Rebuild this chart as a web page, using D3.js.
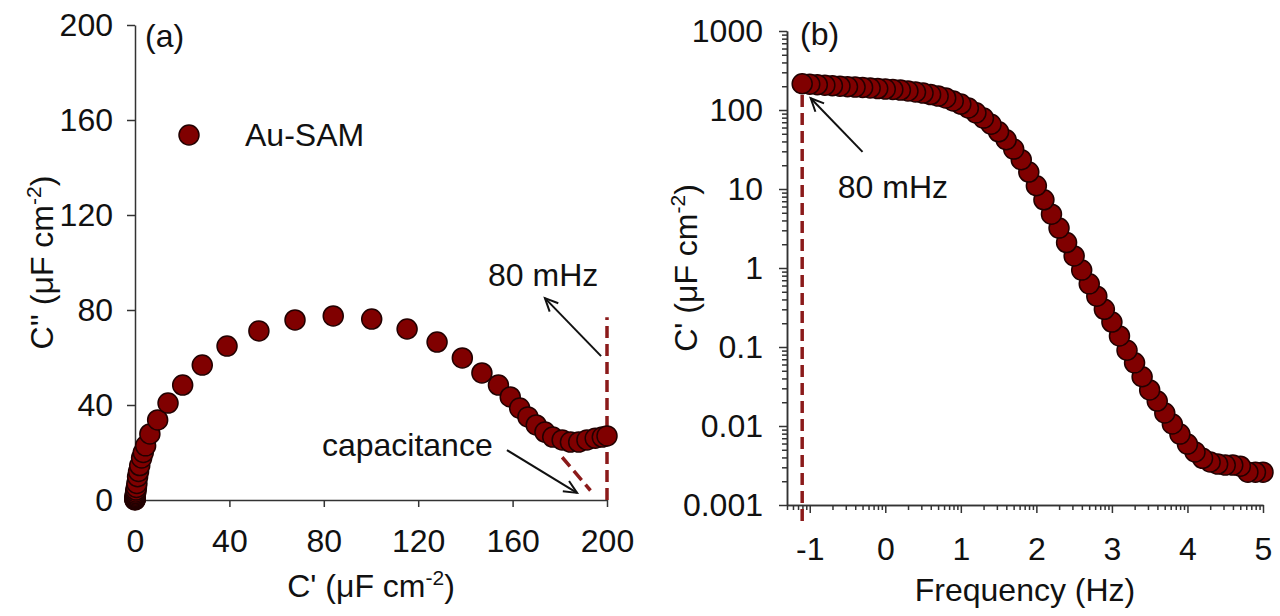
<!DOCTYPE html>
<html>
<head>
<meta charset="utf-8">
<script src="https://cdn.jsdelivr.net/npm/d3@7"></script>
<style>
  body { margin: 0; background: #fff; }
  svg { display: block; font-family: "Liberation Sans", Arial, sans-serif; }
  .axis path, .axis line { stroke: #333; stroke-width: 1.5; }
  .axis text { font-size: 32px; fill: #111; font-family: "Liberation Sans", Arial, sans-serif; }
</style>
</head>
<body>
<svg id="chart"></svg>
<script>
// (a) C'' vs C' , ordered from high to low frequency
const nyqReal = [0.0, 0.01, 0.02, 0.03, 0.05, 0.07, 0.1, 0.14, 0.2, 0.3,
  0.4, 0.6, 0.8, 1.1, 1.5, 2.0, 2.8, 3.5, 4.5, 6.3,
  9.6, 14.0, 20.2, 28.5, 39.0, 52.5, 67.8, 84.0, 100.3, 115.3,
  128.0, 138.7, 147.0, 154.0, 159.0, 163.0, 166.5, 170.0, 173.7, 177.0,
  181.0, 184.5, 188.0, 191.5, 195.0, 198.0, 200.0];
const nyqImag = [0.0, 0.2, 0.4, 0.6, 0.9, 1.2, 1.6, 2.1, 2.7, 3.4,
  4.2, 5.3, 7.0, 9.8, 12.0, 14.5, 17.7, 20.0, 22.8, 27.8,
  33.7, 40.8, 48.4, 56.8, 64.8, 71.2, 75.8, 77.5, 76.2, 72.0,
  66.5, 59.8, 53.5, 48.4, 43.4, 38.7, 35.0, 31.6, 28.6, 26.5,
  25.3, 24.4, 24.4, 25.3, 26.0, 26.5, 27.0];

// (b) C' vs log10(frequency), ascending frequency
const freqLog = [-1.1, -1.0, -0.9, -0.8, -0.7, -0.6, -0.5, -0.4, -0.3, -0.2,
  -0.1, 0.0, 0.1, 0.2, 0.3, 0.4, 0.5, 0.6, 0.7, 0.8,
  0.9, 1.0, 1.1, 1.2, 1.3, 1.4, 1.5, 1.6, 1.7, 1.8,
  1.9, 2.0, 2.1, 2.2, 2.3, 2.4, 2.5, 2.6, 2.7, 2.8,
  2.9, 3.0, 3.1, 3.2, 3.3, 3.4, 3.5, 3.6, 3.7, 3.8,
  3.9, 4.0, 4.1, 4.2, 4.3, 4.4, 4.5, 4.6, 4.7, 4.8,
  4.9, 5.0];
const cReal = [215, 212, 209, 206, 203, 200, 197, 195, 193, 190,
  187, 184, 182, 179, 174, 169, 164, 157, 150, 142,
  130, 119, 106, 92, 79, 66, 53, 42, 32, 23.5,
  16.4, 11, 7.3, 4.8, 3.2, 2.1, 1.42, 0.94, 0.63, 0.44,
  0.30, 0.207, 0.138, 0.091, 0.063, 0.042, 0.0286, 0.0207, 0.0146, 0.0106,
  0.0079, 0.0059, 0.0047, 0.0039, 0.0035, 0.0033, 0.0032, 0.0032, 0.0031, 0.0026,
  0.0026, 0.0026];

const leftTicks = [0, 40, 80, 120, 160, 200];
const decadeTicksY = [0.001, 0.01, 0.1, 1, 10, 100, 1000];
const decadeTicksX = [0.1, 1, 10, 100, 1000, 10000, 100000];

const width = 1280, height = 616;
const red = '#800000', redStroke = '#220000', dashRed = '#8b1a1a';
const r = 10;
const fs = 32;

const svg = d3.select('#chart').attr('width', width).attr('height', height);
svg.append('rect').attr('width', width).attr('height', height).attr('fill', '#fff');

svg.append('defs').append('marker')
  .attr('id', 'arrow')
  .attr('markerUnits', 'userSpaceOnUse')
  .attr('markerWidth', 18).attr('markerHeight', 18)
  .attr('refX', 15).attr('refY', 9)
  .attr('orient', 'auto')
  .append('path')
  .attr('d', 'M2,3 L15,9 L2,15')
  .attr('fill', 'none').attr('stroke', '#111').attr('stroke-width', 2);

const addTitle = (sel, main) => {
  sel.append('tspan').text(main);
  sel.append('tspan').attr('dy', -12).attr('font-size', 21).text('-2');
  sel.append('tspan').attr('dy', 12).text(')');
};

// ---------- panel (a) ----------
const xA = d3.scaleLinear().domain([0, 200]).range([135, 607]);
const yA = d3.scaleLinear().domain([0, 200]).range([500, 25]);

svg.append('g').attr('class', 'axis')
  .attr('transform', `translate(${xA(0)},0)`)
  .call(d3.axisLeft(yA).tickValues(leftTicks).tickSize(8).tickSizeOuter(0).tickPadding(14));

svg.append('g').attr('class', 'axis')
  .attr('transform', `translate(0,${yA(0)})`)
  .call(d3.axisBottom(xA).tickValues(leftTicks).tickSize(7).tickSizeOuter(0).tickPadding(22));

// dashed guides
svg.append('line')
  .attr('x1', xA(200)).attr('y1', yA(0)).attr('x2', xA(200)).attr('y2', yA(77))
  .attr('stroke', dashRed).attr('stroke-width', 3.5).attr('stroke-dasharray', '12,6');
svg.append('line')
  .attr('x1', xA(181)).attr('y1', yA(18)).attr('x2', xA(193)).attr('y2', yA(4))
  .attr('stroke', dashRed).attr('stroke-width', 3.5).attr('stroke-dasharray', '12,6');

const nyq = nyqReal.map((v, i) => ({ x: v, y: nyqImag[i] }));
svg.append('g').selectAll('circle')
  .data(nyq)
  .enter()
  .append('circle')
  .attr('cx', d => xA(d.x))
  .attr('cy', d => yA(d.y))
  .attr('r', r)
  .attr('fill', red).attr('stroke', redStroke).attr('stroke-width', 1.5);

// arrows and notes
svg.append('line')
  .attr('x1', xA(197.5)).attr('y1', yA(60.6)).attr('x2', xA(173.7)).attr('y2', yA(85))
  .attr('stroke', '#111').attr('stroke-width', 2).attr('marker-end', 'url(#arrow)');
svg.append('line')
  .attr('x1', xA(157.6)).attr('y1', yA(21)).attr('x2', xA(187.3)).attr('y2', yA(3))
  .attr('stroke', '#111').attr('stroke-width', 2).attr('marker-end', 'url(#arrow)');

svg.append('text').attr('x', xA(149.6)).attr('y', yA(90))
  .attr('font-size', fs).attr('fill', '#111').text('80 mHz');
svg.append('text').attr('x', xA(79.2)).attr('y', yA(18.5))
  .attr('font-size', fs).attr('fill', '#111').text('capacitance');
svg.append('text').attr('x', 145).attr('y', 47)
  .attr('font-size', fs).attr('fill', '#111').text('(a)');

// legend
svg.append('circle').attr('cx', 189).attr('cy', 135).attr('r', r)
  .attr('fill', red).attr('stroke', redStroke).attr('stroke-width', 1.5);
svg.append('text').attr('x', 245).attr('y', 146)
  .attr('font-size', fs).attr('fill', '#111').text('Au-SAM');

// axis titles (a)
addTitle(svg.append('text')
  .attr('transform', `translate(53,${(yA(0) + yA(200)) / 2}) rotate(-90)`)
  .attr('text-anchor', 'middle').attr('font-size', fs).attr('fill', '#111'), "C'' (μF cm");

addTitle(svg.append('text')
  .attr('x', (xA(0) + xA(200)) / 2).attr('y', 597)
  .attr('text-anchor', 'middle').attr('font-size', fs).attr('fill', '#111'), "C' (μF cm");

// ---------- panel (b) ----------
const xB = d3.scaleLog().domain([0.05, 100000]).range([787, 1263]);
const yB = d3.scaleLog().domain([0.001, 1000]).range([505, 31]);

const isDecade = v => Math.abs(Math.log10(v) - Math.round(Math.log10(v))) < 1e-9;

svg.append('g').attr('class', 'axis')
  .attr('transform', `translate(${xB.range()[0]},0)`)
  .call(d3.axisLeft(yB).tickValues(yB.ticks().filter(v => !isDecade(v)))
    .tickSize(5).tickSizeOuter(0).tickFormat(''));
svg.append('g').attr('class', 'axis')
  .attr('transform', `translate(${xB.range()[0]},0)`)
  .call(d3.axisLeft(yB).tickValues(decadeTicksY).tickSize(8).tickSizeOuter(0).tickPadding(16)
    .tickFormat(d => String(d)));

svg.append('g').attr('class', 'axis')
  .attr('transform', `translate(0,${yB.range()[0]})`)
  .call(d3.axisBottom(xB).tickValues(xB.ticks().filter(v => !isDecade(v)))
    .tickSize(5).tickSizeOuter(0).tickFormat(''));
svg.append('g').attr('class', 'axis')
  .attr('transform', `translate(0,${yB.range()[0]})`)
  .call(d3.axisBottom(xB).tickValues(decadeTicksX).tickSize(8).tickSizeOuter(0).tickPadding(24)
    .tickFormat(d => Math.round(Math.log10(d))));

// dashed line at 80 mHz
svg.append('line')
  .attr('x1', xB(Math.pow(10, freqLog[0]))).attr('x2', xB(Math.pow(10, freqLog[0])))
  .attr('y1', yB(155)).attr('y2', yB(0.001) + 17)
  .attr('stroke', dashRed).attr('stroke-width', 3.5).attr('stroke-dasharray', '12,6');

const bode = freqLog.map((v, i) => ({ f: Math.pow(10, v), c: cReal[i] })).reverse();
svg.append('g').selectAll('circle')
  .data(bode)
  .enter()
  .append('circle')
  .attr('cx', d => xB(d.f))
  .attr('cy', d => yB(d.c))
  .attr('r', r)
  .attr('fill', red).attr('stroke', redStroke).attr('stroke-width', 1.5);

svg.append('line')
  .attr('x1', xB(0.5)).attr('y1', yB(29.5)).attr('x2', xB(0.103)).attr('y2', yB(141))
  .attr('stroke', '#111').attr('stroke-width', 2).attr('marker-end', 'url(#arrow)');
svg.append('text').attr('x', xB(0.235)).attr('y', yB(7.7))
  .attr('font-size', fs).attr('fill', '#111').text('80 mHz');
svg.append('text').attr('x', 800).attr('y', 45)
  .attr('font-size', fs).attr('fill', '#111').text('(b)');

addTitle(svg.append('text')
  .attr('transform', `translate(697,${(yB.range()[0] + yB.range()[1]) / 2}) rotate(-90)`)
  .attr('text-anchor', 'middle').attr('font-size', fs).attr('fill', '#111'), "C' (μF cm");

svg.append('text')
  .attr('x', (xB.range()[0] + xB.range()[1]) / 2).attr('y', 601)
  .attr('text-anchor', 'middle').attr('font-size', fs).attr('fill', '#111')
  .text('Frequency (Hz)');
</script>
</body>
</html>
